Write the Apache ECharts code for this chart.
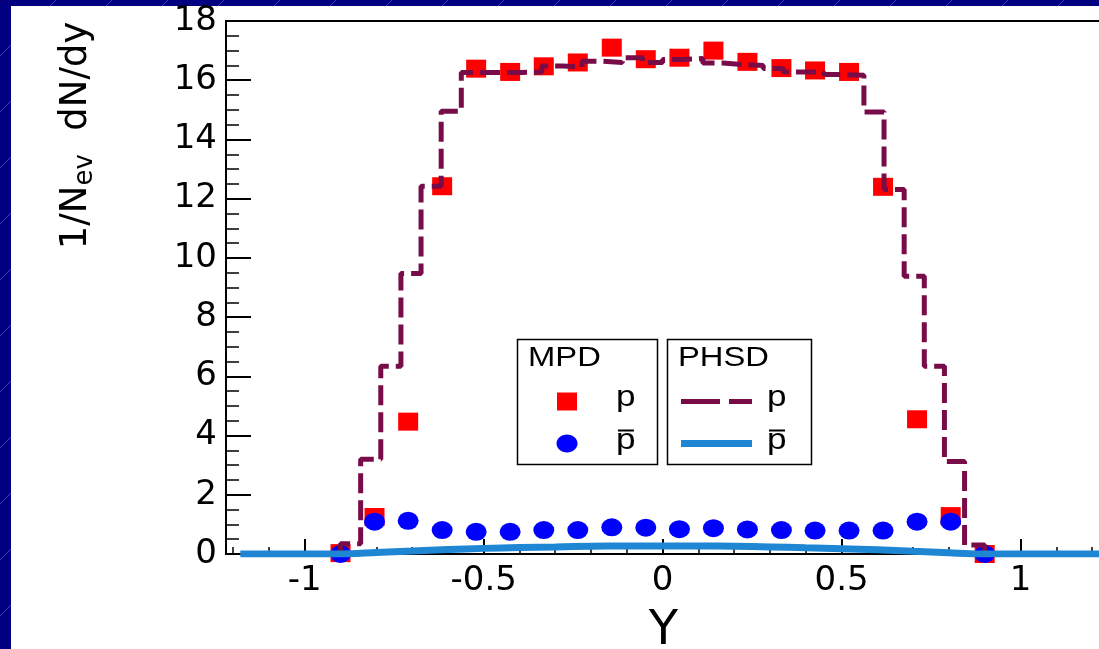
<!DOCTYPE html>
<html><head><meta charset="utf-8">
<script src="https://cdn.jsdelivr.net/npm/echarts@6/dist/echarts.min.js"></script>
<style>html,body{margin:0;padding:0;background:#000080;}#c{width:1099px;height:649px;}</style>
</head><body><div id="c"></div>
<script>
// ---- data ----
const mpdX = [-0.9, -0.805, -0.711, -0.616, -0.521, -0.426, -0.332, -0.237, -0.142, -0.047,
              0.047, 0.142, 0.237, 0.332, 0.426, 0.521, 0.616, 0.711, 0.805, 0.9];
const mpdP = [0.03, 1.25, 4.47, 12.42, 16.39, 16.28, 16.47, 16.6, 17.1, 16.71,
              16.76, 17.0, 16.62, 16.41, 16.33, 16.28, 12.40, 4.55, 1.28, 0.0];
const mpdPbar = [0.0, 1.09, 1.12, 0.81, 0.75, 0.75, 0.81, 0.81, 0.90, 0.89,
                 0.84, 0.87, 0.83, 0.81, 0.79, 0.79, 0.79, 1.09, 1.09, 0.0];
const phsdEdges = [-0.9, -0.84375, -0.7875, -0.73125, -0.675, -0.61875, -0.5625, -0.50625,
                   -0.45, -0.39375, -0.3375, -0.28125, -0.225, -0.16875, -0.1125, -0.05625, 0,
                   0.05625, 0.1125, 0.16875, 0.225, 0.28125, 0.3375, 0.39375, 0.45, 0.50625,
                   0.5625, 0.61875, 0.675, 0.73125, 0.7875, 0.84375, 0.9];
const phsdP = [0.35, 3.2, 6.34, 9.47, 12.42, 14.95, 16.26, 16.26, 16.26, 16.28, 16.48, 16.45,
               16.64, 16.6, 16.76, 16.6, 16.7, 16.73, 16.58, 16.53, 16.5, 16.4, 16.28, 16.28,
               16.19, 16.17, 14.93, 12.31, 9.38, 6.34, 3.12, 0.3];
const phsdPbarX = [-1.18, -0.9, -0.8, -0.7, -0.6, -0.5, -0.4, -0.3, -0.2, -0.1, 0, 0.1, 0.2,
                   0.3, 0.4, 0.5, 0.6, 0.7, 0.8, 0.88, 1.0, 1.225];
const phsdPbarY = [0, 0, 0.05, 0.1, 0.15, 0.19, 0.22, 0.24, 0.26, 0.27, 0.27, 0.27, 0.26,
                   0.24, 0.21, 0.18, 0.14, 0.09, 0.04, 0, 0, 0];
const xMajorTicks = [-1, -0.5, 0, 0.5, 1];
const xMinorTicks = [-1.2, -1.1, -0.9, -0.8, -0.7, -0.6, -0.4, -0.3, -0.2, -0.1,
                     0.1, 0.2, 0.3, 0.4, 0.6, 0.7, 0.8, 0.9, 1.1, 1.2];

// ---- build ----
const sq = mpdX.map((x, i) => [x, mpdP[i]]);
const ci = mpdX.map((x, i) => [x, mpdPbar[i]]);
const hist = [[phsdEdges[0], 0]];
phsdP.forEach((v, i) => { hist.push([phsdEdges[i], v]); hist.push([phsdEdges[i + 1], v]); });
hist.push([phsdEdges[phsdEdges.length - 1], 0]);
const pbarLine = phsdPbarX.map((x, i) => [x, phsdPbarY[i]]);

const FONT = 'DejaVu Sans';
const MAROON = '#780c48', LBLUE = '#1f86d3';

// background diagonal pattern
const bg = [{type: 'rect', shape: {x: 0, y: 0, width: 1099, height: 649}, style: {fill: '#000080'}, z: -200}];
for (let k = -700; k < 1200; k += 56) {
  bg.push({type: 'line', shape: {x1: k, y1: 700, x2: k + 700, y2: 0}, style: {stroke: '#3344b0', lineWidth: 1}, z: -199});
}
bg.push({type: 'rect', shape: {x: 11, y: 6, width: 1088, height: 643}, style: {fill: '#ffffff'}, z: -198});

const legendTextScale = 1.17;
const leg = [
  {type: 'rect', shape: {x: 517.5, y: 339.5, width: 140, height: 125}, style: {fill: '#fff', stroke: '#000', lineWidth: 1.5}},
  {type: 'rect', shape: {x: 667.5, y: 339.5, width: 144, height: 125}, style: {fill: '#fff', stroke: '#000', lineWidth: 1.5}},
  {type: 'text', x: 528, y: 358, scaleX: legendTextScale, style: {text: 'MPD', font: '28px "Liberation Sans"', fill: '#000', verticalAlign: 'middle'}},
  {type: 'text', x: 678, y: 358, scaleX: legendTextScale, style: {text: 'PHSD', font: '28px "Liberation Sans"', fill: '#000', verticalAlign: 'middle'}},
  {type: 'rect', shape: {x: 557, y: 392.5, width: 20, height: 18}, style: {fill: '#ff0000'}},
  {type: 'ellipse', shape: {cx: 567, cy: 443.5, rx: 10.5, ry: 9}, style: {fill: '#0000ff'}},
  {type: 'text', x: 616, y: 398, scaleX: legendTextScale, style: {text: 'p', font: '30px "Liberation Sans"', fill: '#000', verticalAlign: 'middle'}},
  {type: 'text', x: 616, y: 441, scaleX: legendTextScale, style: {text: 'p', font: '30px "Liberation Sans"', fill: '#000', verticalAlign: 'middle'}},
  {type: 'line', shape: {x1: 618, y1: 430.5, x2: 634, y2: 430.5}, style: {stroke: '#000', lineWidth: 2}},
  {type: 'line', shape: {x1: 681, y1: 401.5, x2: 720, y2: 401.5}, style: {stroke: MAROON, lineWidth: 5}},
  {type: 'line', shape: {x1: 729, y1: 401.5, x2: 752, y2: 401.5}, style: {stroke: MAROON, lineWidth: 5}},
  {type: 'line', shape: {x1: 681, y1: 443.5, x2: 752, y2: 443.5}, style: {stroke: LBLUE, lineWidth: 7}},
  {type: 'text', x: 767, y: 398, scaleX: legendTextScale, style: {text: 'p', font: '30px "Liberation Sans"', fill: '#000', verticalAlign: 'middle'}},
  {type: 'text', x: 767, y: 441, scaleX: legendTextScale, style: {text: 'p', font: '30px "Liberation Sans"', fill: '#000', verticalAlign: 'middle'}},
  {type: 'line', shape: {x1: 769, y1: 430.5, x2: 785, y2: 430.5}, style: {stroke: '#000', lineWidth: 2}}
].map(e => Object.assign(e, {z: 100}));

const chart = echarts.init(document.getElementById('c'), null, {renderer: 'canvas'});
chart.setOption({
  backgroundColor: '#000080',
  animation: false,
  graphic: {elements: bg.concat(leg)},
  grid: {left: 226, top: 21, width: 875, height: 533, show: true, borderColor: '#000', borderWidth: 2,
         backgroundColor: 'transparent', containLabel: false, outerBoundsMode: 'none'},
  xAxis: [{
    type: 'value', min: -1.22, max: 1.225,
    splitLine: {show: false},
    axisLine: {onZero: false, lineStyle: {color: '#000', width: 2}},
    axisTick: {inside: true, length: 15, customValues: xMajorTicks, lineStyle: {color: '#000', width: 2}},
    axisLabel: {customValues: xMajorTicks, fontFamily: FONT, fontSize: 34, color: '#000', margin: 10,
                formatter: v => String(v)},
    name: 'Y', nameLocation: 'middle', nameGap: 54,
    nameTextStyle: {fontFamily: FONT, fontSize: 48, color: '#000'}
  }, {
    type: 'value', min: -1.22, max: 1.225, position: 'bottom',
    splitLine: {show: false}, axisLine: {show: false},
    axisTick: {inside: true, length: 7, customValues: xMinorTicks, lineStyle: {color: '#000', width: 1.5}},
    axisLabel: {show: false}
  }],
  yAxis: {
    type: 'value', min: 0, max: 18, interval: 2,
    splitLine: {show: false},
    axisLine: {onZero: false, lineStyle: {color: '#000', width: 2}},
    axisTick: {inside: true, length: 25, lineStyle: {color: '#000', width: 2}},
    minorTick: {show: true, splitNumber: 4, length: 13, lineStyle: {color: '#000', width: 1.5}},
    axisLabel: {fontFamily: FONT, fontSize: 34, color: '#000', margin: 9},
    name: '{a|1/N}{s|ev}{a|  dN/dy}', nameLocation: 'middle', nameRotate: 90, nameGap: 128,
    nameTextStyle: {
      padding: [0, 0, 0, 304],
      rich: {
        a: {fontFamily: FONT, fontSize: 37, color: '#000', lineHeight: 44},
        s: {fontFamily: FONT, fontSize: 26, color: '#000', lineHeight: 44, verticalAlign: 'bottom', padding: [15, 0, 0, 0]}
      }
    }
  },
  series: [
    {type: 'scatter', name: 'MPD p', data: sq, symbol: 'rect', symbolSize: [20, 18],
     itemStyle: {color: '#ff0000', opacity: 1}, z: 3},
    {type: 'scatter', name: 'MPD pbar', data: ci, symbol: 'circle', symbolSize: [21, 18],
     itemStyle: {color: '#0000ff', opacity: 1}, z: 4},
    {type: 'line', name: 'PHSD p', data: hist, showSymbol: false, symbol: 'none',
     lineStyle: {color: MAROON, width: 5, type: [20, 7]}, z: 5},
    {type: 'line', name: 'PHSD pbar', data: pbarLine, showSymbol: false, symbol: 'none', smooth: 0.3,
     lineStyle: {color: LBLUE, width: 7}, z: 6}
  ]
});
</script>
</body></html>
